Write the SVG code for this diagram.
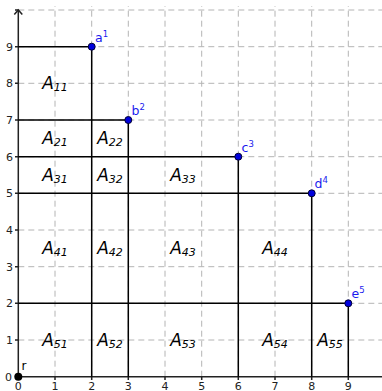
<svg xmlns="http://www.w3.org/2000/svg" width="382" height="391" viewBox="0 0 382 391">
<defs>
<style>
.grid{stroke:#b4b4b4;stroke-width:1;stroke-dasharray:6 4;fill:none}
.axis{stroke:#222;stroke-width:1.5;fill:none}
.seg{stroke:#000;stroke-width:1.5;fill:none}
.tick{font-family:"DejaVu Sans",sans-serif;font-size:11px;fill:#222}
.area{font-family:"DejaVu Sans",sans-serif;font-style:italic;font-size:17px;fill:#000;text-anchor:middle}
.sub{font-size:11px}
.pt{fill:#0000dd;stroke:#000033;stroke-width:1}
.plab{font-family:"DejaVu Sans",sans-serif;font-size:12.5px;fill:#1a1aee}
.sup{font-size:8.5px}
</style>
</defs>
<rect width="382" height="391" fill="#fff"/>
<g id="grid" class="grid">
<path d="M18.3 10H382M18.3 46.7H382M18.3 83.3H382M18.3 120H382M18.3 156.7H382M18.3 193.3H382M18.3 230H382M18.3 266.7H382M18.3 303.3H382M18.3 340H382"/>
<path d="M55 376.7V6M91.7 376.7V6M128.3 376.7V6M165 376.7V6M201.7 376.7V6M238.3 376.7V6M275 376.7V6M311.7 376.7V6M348.3 376.7V6"/>
</g>
<g id="axes">
<path class="axis" d="M18.3 376.7H382M18.3 376.7V10"/>
<path class="axis" d="M14.3 14.5L18.3 10L22.3 14.5"/>
<path class="axis" d="M15 340H18.3M15 303.3H18.3M15 266.7H18.3M15 230H18.3M15 193.3H18.3M15 156.7H18.3M15 120H18.3M15 83.3H18.3M15 46.7H18.3M15 10H18.3"/>
<path class="axis" d="M55 376.7V380M91.7 376.7V380M128.3 376.7V380M165 376.7V380M201.7 376.7V380M238.3 376.7V380M275 376.7V380M311.7 376.7V380M348.3 376.7V380"/>
<g class="tick" text-anchor="end">
<text x="12" y="380.5">0</text><text x="13" y="344">1</text><text x="13" y="307.3">2</text><text x="13" y="270.7">3</text><text x="13" y="234">4</text><text x="13" y="197.3">5</text><text x="13" y="160.7">6</text><text x="13" y="124">7</text><text x="13" y="87.3">8</text><text x="13" y="50.7">9</text>
</g>
<g class="tick" text-anchor="middle">
<text x="18.3" y="389.5">0</text><text x="55" y="389.5">1</text><text x="91.7" y="389.5">2</text><text x="128.3" y="389.5">3</text><text x="165" y="389.5">4</text><text x="201.7" y="389.5">5</text><text x="238.3" y="389.5">6</text><text x="275" y="389.5">7</text><text x="311.7" y="389.5">8</text><text x="348.3" y="389.5">9</text>
</g>
</g>
<g id="connectors" class="seg">
<path d="M18.3 46.7H91.7V376.7"/>
<path d="M18.3 120H128.3V376.7"/>
<path d="M18.3 156.7H238.3V376.7"/>
<path d="M18.3 193.3H311.7V376.7"/>
<path d="M18.3 303.3H348.3V376.7"/>
</g>
<g id="areas" class="area">
<text x="55" y="89">A<tspan class="sub" dy="2">11</tspan></text>
<text x="55" y="144">A<tspan class="sub" dy="2">21</tspan></text>
<text x="110" y="144">A<tspan class="sub" dy="2">22</tspan></text>
<text x="55" y="181">A<tspan class="sub" dy="2">31</tspan></text>
<text x="110" y="181">A<tspan class="sub" dy="2">32</tspan></text>
<text x="183" y="181">A<tspan class="sub" dy="2">33</tspan></text>
<text x="55" y="254">A<tspan class="sub" dy="2">41</tspan></text>
<text x="110" y="254">A<tspan class="sub" dy="2">42</tspan></text>
<text x="183" y="254">A<tspan class="sub" dy="2">43</tspan></text>
<text x="275" y="254">A<tspan class="sub" dy="2">44</tspan></text>
<text x="55" y="346">A<tspan class="sub" dy="2">51</tspan></text>
<text x="110" y="346">A<tspan class="sub" dy="2">52</tspan></text>
<text x="183" y="346">A<tspan class="sub" dy="2">53</tspan></text>
<text x="275" y="346">A<tspan class="sub" dy="2">54</tspan></text>
<text x="330" y="346">A<tspan class="sub" dy="2">55</tspan></text>
</g>
<g id="point-r"><circle cx="18.3" cy="376.7" r="4" fill="#000"/><text x="21.5" y="370" font-family="DejaVu Sans,sans-serif" font-size="12" fill="#000">r</text></g>
<g id="point-a"><circle class="pt" cx="91.7" cy="46.7" r="3.5"/><text class="plab" x="95" y="42">a<tspan class="sup" dy="-5">1</tspan></text></g>
<g id="point-b"><circle class="pt" cx="128.3" cy="120" r="3.5"/><text class="plab" x="131.5" y="115">b<tspan class="sup" dy="-5">2</tspan></text></g>
<g id="point-c"><circle class="pt" cx="238.3" cy="156.7" r="3.5"/><text class="plab" x="241.5" y="151.5">c<tspan class="sup" dy="-5">3</tspan></text></g>
<g id="point-d"><circle class="pt" cx="311.7" cy="193.3" r="3.5"/><text class="plab" x="314.5" y="188">d<tspan class="sup" dy="-5">4</tspan></text></g>
<g id="point-e"><circle class="pt" cx="348.3" cy="303.3" r="3.5"/><text class="plab" x="351.5" y="298">e<tspan class="sup" dy="-5">5</tspan></text></g>
</svg>
